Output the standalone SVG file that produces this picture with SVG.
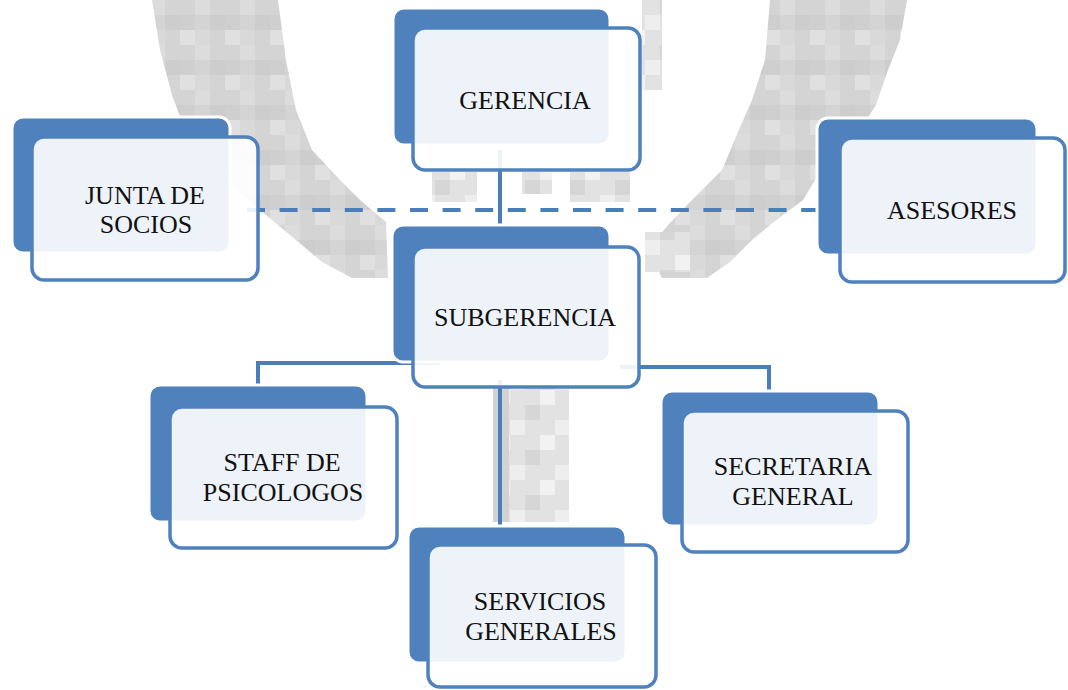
<svg xmlns="http://www.w3.org/2000/svg" width="1068" height="690" viewBox="0 0 1068 690">
  <style>
    .back { fill: #4F81BD; stroke: #ffffff; stroke-width: 3; }
    .front { fill: #ffffff; fill-opacity: 0.9; stroke: #4F81BD; stroke-width: 3.5; }
    .lbl { font-family: "Liberation Serif", "Times New Roman", serif; font-size: 26px; fill: #111111; text-anchor: middle; }
    .conn { fill: none; stroke: #4A7EBB; stroke-width: 4; }
    .wm { fill: url(#mosaic); }
    .wm2 { fill: url(#mosaic2); }
  </style>
  <defs>
    <pattern id="mosaic" x="0" y="0" width="45" height="45" patternUnits="userSpaceOnUse">
      <rect width="45" height="45" fill="#D4D4D4"/>
      <rect x="15" y="0" width="15" height="15" fill="#DCDCDC"/>
      <rect x="30" y="15" width="15" height="15" fill="#CDCDCD"/>
      <rect x="0" y="30" width="15" height="15" fill="#E0E0E0"/>
      <rect x="15" y="30" width="15" height="15" fill="#D9D9D9"/>
      <rect x="0" y="15" width="15" height="15" fill="#CFCFCF"/>
    </pattern>
    <pattern id="mosaic2" x="0" y="0" width="45" height="45" patternUnits="userSpaceOnUse">
      <rect width="45" height="45" fill="#E2E2E2"/>
      <rect x="15" y="15" width="15" height="15" fill="#EEEEEE"/>
      <rect x="30" y="0" width="15" height="15" fill="#D6D6D6"/>
      <rect x="0" y="30" width="15" height="15" fill="#F2F2F2"/>
    </pattern>
  </defs>
  <rect width="1068" height="690" fill="#ffffff"/>
  <g id="watermark">
    <polygon class="wm" points="152,0 278,0 286,60 296,110 312,150 340,180 360,200 386,222 388,278 352,278 322,262 296,240 266,215 236,190 205,165 185,130 172,95 160,50"/>
    <polygon class="wm" points="770,0 907,0 900,40 888,70 876,105 860,130 840,160 815,180 803,200 770,225 752,240 730,262 707,278 662,278 648,250 668,225 692,200 722,170 738,132 752,100 765,60"/>
    <rect class="wm2" x="493" y="388" width="76" height="134"/>
    <rect fill="#D2D2D2" x="493" y="388" width="16" height="134"/>
    <rect class="wm2" x="432" y="172" width="45" height="30"/>
    <rect class="wm2" x="522" y="172" width="30" height="22"/>
    <rect class="wm2" x="570" y="172" width="60" height="30"/>
    <rect class="wm2" x="642" y="0" width="20" height="90"/>
    <rect class="wm2" x="645" y="232" width="45" height="40"/>
  </g>
  <g id="connectors">
    <path class="conn" d="M500 150 V227"/>
    <path class="conn" d="M247 210 H838" stroke-dasharray="18 14.6"/>
    <path class="conn" d="M440 363 H258 V387"/>
    <path class="conn" d="M500 380 V528"/>
    <path class="conn" d="M620 367 H769 V393"/>
  </g>
  <g id="gerencia">
    <rect class="back" x="393" y="8" width="217" height="137" rx="11"/>
    <rect class="front" x="413" y="28" width="227" height="142" rx="12"/>
    <text class="lbl" x="525" y="109">GERENCIA</text>
  </g>
  <g id="junta-de-socios">
    <rect class="back" x="12" y="117" width="218" height="136" rx="11"/>
    <rect class="front" x="32" y="137" width="226" height="143" rx="12"/>
    <text class="lbl" x="145" y="204">JUNTA DE</text>
    <text class="lbl" x="146" y="233">SOCIOS</text>
  </g>
  <g id="asesores">
    <rect class="back" x="817" y="118" width="220" height="137" rx="11"/>
    <rect class="front" x="840" y="138" width="225" height="144" rx="12"/>
    <text class="lbl" x="952" y="219">ASESORES</text>
  </g>
  <g id="subgerencia">
    <rect class="back" x="392" y="225" width="218" height="137" rx="11"/>
    <rect class="front" x="413" y="247" width="226" height="140" rx="12"/>
    <text class="lbl" x="525" y="326">SUBGERENCIA</text>
  </g>
  <g id="staff-de-psicologos">
    <rect class="back" x="149" y="385" width="218" height="137" rx="11"/>
    <rect class="front" x="170" y="407" width="227" height="141" rx="12"/>
    <text class="lbl" x="282" y="471">STAFF DE</text>
    <text class="lbl" x="283" y="501">PSICOLOGOS</text>
  </g>
  <g id="secretaria-general">
    <rect class="back" x="661" y="391" width="218" height="135" rx="11"/>
    <rect class="front" x="682" y="411" width="226" height="141" rx="12"/>
    <text class="lbl" x="793" y="475">SECRETARIA</text>
    <text class="lbl" x="793" y="505">GENERAL</text>
  </g>
  <g id="servicios-generales">
    <rect class="back" x="408" y="526" width="218" height="137" rx="11"/>
    <rect class="front" x="428" y="545" width="228" height="142" rx="12"/>
    <text class="lbl" x="540" y="610">SERVICIOS</text>
    <text class="lbl" x="541" y="640">GENERALES</text>
  </g>
</svg>
